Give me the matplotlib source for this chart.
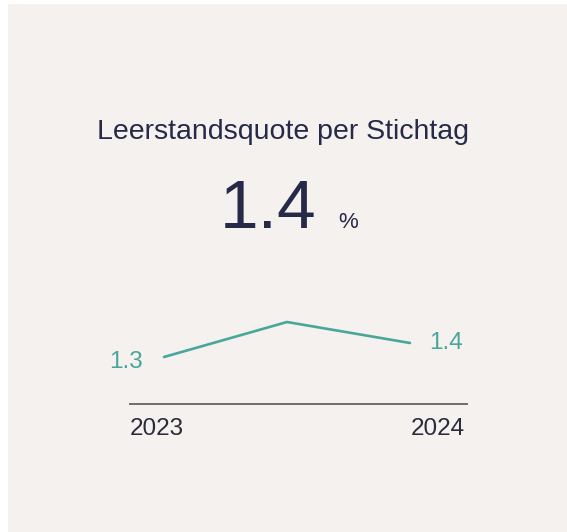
import matplotlib.pyplot as plt
from matplotlib.patches import Rectangle

# Leerstandsquote (%) per Stichtag
years = ["2023", "2024"]
x_pos = [0, 1, 2]
quote = [1.3, 1.55, 1.4]
current = 1.4

W, H = 567, 532
navy = "#262a48"
teal = "#4aa69a"
bg = "#f4f1ee"

plt.rcParams["font.family"] = ["Liberation Sans", "DejaVu Sans"]

fig = plt.figure(figsize=(W / 100, H / 100), dpi=100, facecolor="white")

# card background
fig.patches.append(Rectangle((8 / W, 0), 1, 1 - 4 / H, transform=fig.transFigure,
                             facecolor=bg, edgecolor="none", zorder=-10))

fig.text(283 / W, 1 - 132 / H, "Leerstandsquote per Stichtag", ha="center", va="center",
         fontsize=20.5, color=navy)
fig.text(268 / W, 1 - 228 / H, f"{current:.1f}", ha="center", va="baseline",
         fontsize=50, color=navy)
fig.text(348 / W, 1 - 228 / H, "%", ha="center", va="baseline", fontsize=16, color=navy)

# sparkline axes: bottom spine at y=404px, spans x 130..467px
left, right, top, bottom = 130, 467, 300, 404
ax = fig.add_axes([left / W, 1 - bottom / H, (right - left) / W, (bottom - top) / H])
ax.set_zorder(5)
ax.set_facecolor("none")
ax.plot(x_pos, quote, color=teal, lw=1.9, solid_capstyle="round")
ax.set_xlim(-34 / 123, 2 + 57 / 123)
ax.set_ylim(1.3 - 47 / 140, 1.3 + 57 / 140)
for s in ["top", "left", "right"]:
    ax.spines[s].set_visible(False)
ax.spines["bottom"].set_color("#6e6c6c")
ax.spines["bottom"].set_linewidth(1.4)
ax.set_xticks([])
ax.set_yticks([])

ax.annotate(f"{quote[0]:.1f}", (x_pos[0], quote[0]), xytext=(-15, -3.5), textcoords="offset points",
            ha="right", va="center", fontsize=17.5, color=teal)
ax.annotate(f"{quote[-1]:.1f}", (x_pos[-1], quote[-1]), xytext=(14, 0), textcoords="offset points",
            ha="left", va="center", fontsize=17.5, color=teal)

ax.text(0, -0.245, years[0], transform=ax.transAxes, ha="left", va="center",
        fontsize=17.5, color="#2b2b3a")
ax.text(0.995, -0.245, years[1], transform=ax.transAxes, ha="right", va="center",
        fontsize=17.5, color="#2b2b3a")

fig.savefig("out.png", dpi=100, facecolor="white")
